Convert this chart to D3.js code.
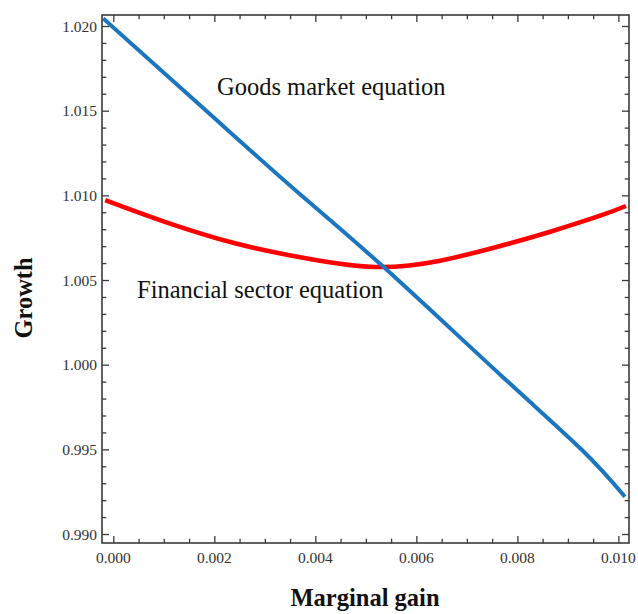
<!DOCTYPE html>
<html>
<head>
<meta charset="utf-8">
<script src="https://cdn.jsdelivr.net/npm/d3@7"></script>
<style>
  html, body { margin: 0; padding: 0; background: #fff; }
  svg { display: block; }
</style>
</head>
<body>
<svg id="chart" width="638" height="614"></svg>
<script>
// Goods market equation curve
const goodsX = [-0.00020, 0.00211, 0.00368, 0.00538, 0.00766, 0.00928, 0.01013];
const goodsY = [1.02045, 1.01427, 1.01011, 1.00569, 0.99941, 0.99496, 0.99220];

// Financial sector equation curve
const finX = [-0.00016, 0.00102, 0.00241, 0.00370, 0.00508, 0.00647, 0.00786, 0.00865, 0.00964, 0.01015];
const finY = [1.00972, 1.00844, 1.00717, 1.00634, 1.00578, 1.00614, 1.00717, 1.00785, 1.00880, 1.00937];

const xTicks = [0.000, 0.002, 0.004, 0.006, 0.008, 0.010];
const yTicks = [0.990, 0.995, 1.000, 1.005, 1.010, 1.015, 1.020];
const xMinorTicks = d3.range(0, 0.0105, 0.0005).filter(v => Math.abs(Math.round(v / 0.002) * 0.002 - v) > 1e-9);
const yMinorTicks = d3.range(0.990, 1.0205, 0.001).filter(v => Math.abs(Math.round(v / 0.005) * 0.005 - v) > 1e-9);

const xLabel = "Marginal gain";
const yLabel = "Growth";
const goodsLabel = "Goods market equation";
const finLabel = "Financial sector equation";

const svg = d3.select("#chart");
const plot = { left: 102, right: 629, top: 15, bottom: 543 };

const x = d3.scaleLinear().domain([-0.000224, 0.01021]).range([plot.left, plot.right]);
const y = d3.scaleLinear().domain([0.98947, 1.02065]).range([plot.bottom, plot.top]);

const frameColor = "#3a3a3a";
const serif = "'Liberation Serif', 'Times New Roman', serif";

svg.append("clipPath").attr("id", "plotClip")
  .append("rect")
  .attr("x", plot.left).attr("y", plot.top)
  .attr("width", plot.right - plot.left).attr("height", plot.bottom - plot.top);

// Curves
const line = (xs, ys, curve) => d3.line()
  .x((d, i) => x(xs[i]))
  .y((d, i) => y(ys[i]))
  .curve(curve)(xs);

const curves = svg.append("g").attr("clip-path", "url(#plotClip)");
curves.append("path")
  .attr("d", line(finX, finY, d3.curveNatural))
  .attr("fill", "none").attr("stroke", "#ff0000").attr("stroke-width", 4.5);
curves.append("path")
  .attr("d", line(goodsX, goodsY, d3.curveNatural))
  .attr("fill", "none").attr("stroke", "#1c76bf").attr("stroke-width", 4);

// Frame ticks on all four sides, pointing inward
const major = 7, minor = 4.3;
function frameAxis(axisFn, scale, ticks, size, transform) {
  const a = axisFn(scale).tickValues(ticks).tickSizeInner(size).tickSizeOuter(0).tickFormat("");
  const g = svg.append("g").attr("transform", transform).call(a);
  g.select(".domain").remove();
  g.selectAll(".tick line").attr("stroke", frameColor).attr("stroke-width", 1.3);
  return g;
}
// bottom (ticks drawn upward)
frameAxis(d3.axisTop, x, xTicks, major, `translate(0,${plot.bottom})`);
frameAxis(d3.axisTop, x, xMinorTicks, minor, `translate(0,${plot.bottom})`);
// top (ticks drawn downward)
frameAxis(d3.axisBottom, x, xTicks, major, `translate(0,${plot.top})`);
frameAxis(d3.axisBottom, x, xMinorTicks, minor, `translate(0,${plot.top})`);
// left (ticks drawn rightward)
frameAxis(d3.axisRight, y, yTicks, major, `translate(${plot.left},0)`);
frameAxis(d3.axisRight, y, yMinorTicks, minor, `translate(${plot.left},0)`);
// right (ticks drawn leftward)
frameAxis(d3.axisLeft, y, yTicks, major, `translate(${plot.right},0)`);
frameAxis(d3.axisLeft, y, yMinorTicks, minor, `translate(${plot.right},0)`);

// Frame
svg.append("rect")
  .attr("x", plot.left).attr("y", plot.top)
  .attr("width", plot.right - plot.left).attr("height", plot.bottom - plot.top)
  .attr("fill", "none").attr("stroke", frameColor).attr("stroke-width", 1.6);

// Tick labels
const fmt = d3.format(".3f");
svg.append("g").selectAll("text").data(xTicks).join("text")
  .attr("x", d => x(d)).attr("y", 563)
  .attr("text-anchor", "middle")
  .attr("font-family", serif).attr("font-size", 15.5).attr("fill", "#333")
  .text(fmt);
svg.append("g").selectAll("text").data(yTicks).join("text")
  .attr("x", 97).attr("y", d => y(d) + 5.5)
  .attr("text-anchor", "end")
  .attr("font-family", serif).attr("font-size", 15.5).attr("fill", "#333")
  .text(fmt);

// Axis titles
svg.append("text")
  .attr("x", 365).attr("y", 606)
  .attr("text-anchor", "middle")
  .attr("font-family", serif).attr("font-weight", "bold").attr("font-size", 24.5)
  .attr("fill", "#111")
  .text(xLabel);
svg.append("text")
  .attr("transform", "translate(32,298) rotate(-90)")
  .attr("text-anchor", "middle")
  .attr("font-family", serif).attr("font-weight", "bold").attr("font-size", 24.5)
  .attr("fill", "#111")
  .text(yLabel);

// Curve annotations
svg.append("text")
  .attr("x", 217).attr("y", 95)
  .attr("font-family", serif).attr("font-size", 24.5).attr("fill", "#111")
  .text(goodsLabel);
svg.append("text")
  .attr("x", 137).attr("y", 298)
  .attr("font-family", serif).attr("font-size", 24.5).attr("fill", "#111")
  .text(finLabel);
</script>
</body>
</html>
